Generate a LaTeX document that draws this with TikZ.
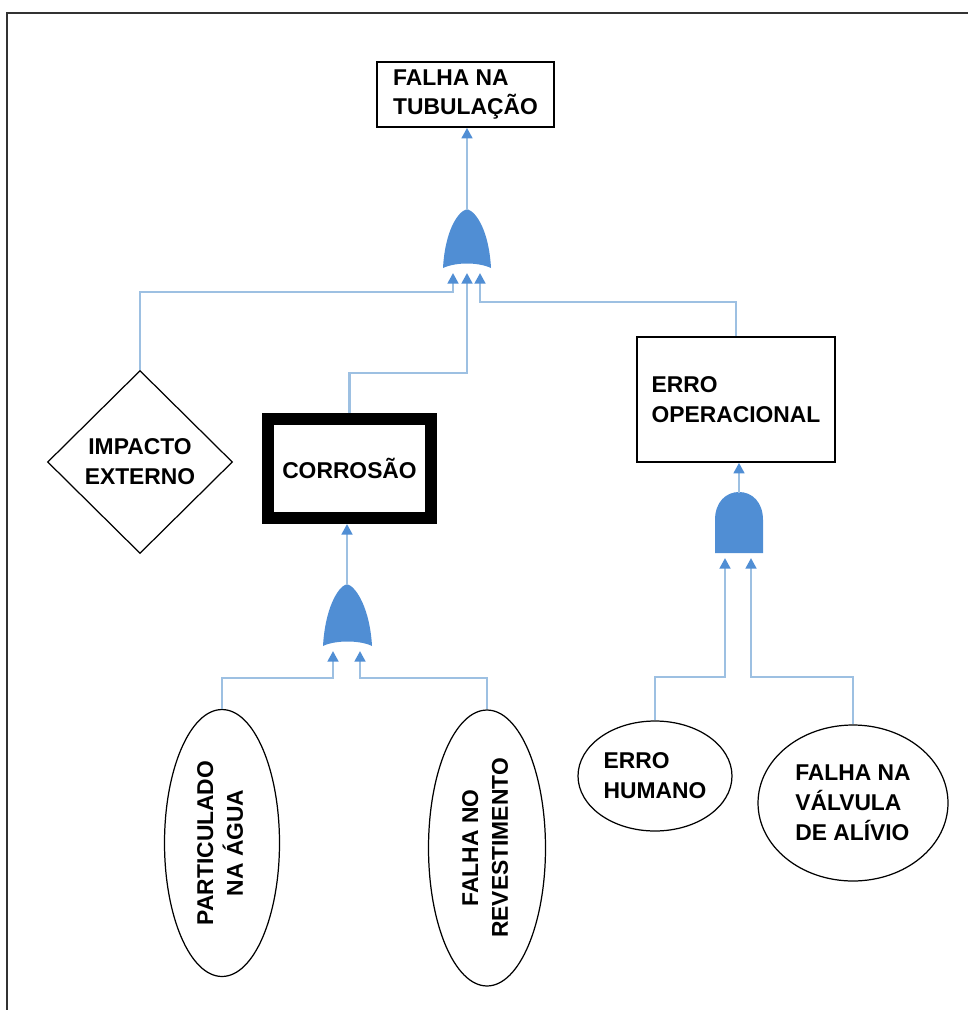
\documentclass[tikz,border=0pt]{standalone}
\usepackage{fontspec}
\usepackage{graphicx}
\setmainfont{Liberation Sans}
\usetikzlibrary{shapes.geometric,arrows.meta}
\definecolor{linkblue}{RGB}{157,192,226}
\definecolor{gateblue}{RGB}{80,142,212}

\begin{document}
\begin{tikzpicture}[x=0.02cm,y=-0.02cm]
  \tikzset{txt/.style = {font=\fontsize{13}{17}\selectfont\bfseries, inner sep=0pt}}
  \tikzset{box/.style = {txt, draw, line width=0.9pt, align=left}}
  \tikzset{basic/.style = {txt, draw, ellipse, line width=0.7pt}}
  \tikzset{link/.style = {draw=linkblue, line width=1.5pt, -{Triangle[length=6pt,width=6pt,color=gateblue]}}}
  \tikzset{gate/.style = {fill=gateblue}}

  \useasboundingbox (0,0) rectangle (968,1010);

  % Frame
  \draw[line width=1.2pt, black!80] (7,1010) -- (7,13) -- (968,13);

  % Events
  \node[box, minimum width=3.54cm, minimum height=1.3cm] (top) at (465.5,94.5) {FALHA NA\\TUBULAÇÃO};
  \node[txt, draw, diamond, line width=0.7pt, align=center, minimum width=3.7cm, minimum height=3.66cm] (imp) at (140,462) {IMPACTO\\EXTERNO};
  \node[box, line width=6.8pt, align=center, minimum width=3.26cm, minimum height=1.98cm] (cor) at (349.5,468.5) {CORROSÃO};
  \node[box, minimum width=3.96cm, minimum height=2.5cm] (eop) at (736,399.5) {ERRO\\OPERACIONAL};
  \node[basic, minimum width=2.3cm, minimum height=5.34cm] (part) at (222,843) {\rotatebox{90}{\begin{tabular}{@{}c@{}}PARTICULADO\\NA ÁGUA\end{tabular}}};
  \node[basic, minimum width=2.34cm, minimum height=5.52cm] (rev) at (487,848) {\rotatebox{90}{\begin{tabular}{@{}c@{}}FALHA NO\\REVESTIMENTO\end{tabular}}};
  \node[basic, align=left, minimum width=3.08cm, minimum height=2.2cm] (hum) at (655,776) {ERRO\\HUMANO};
  \node[basic, align=left, minimum width=3.8cm, minimum height=3.12cm] (val) at (853,803) {FALHA NA\\VÁLVULA\\DE ALÍVIO};

  % Gates
  \fill[gate] (443,268) .. controls (445,232) and (457,212) .. (467,209) .. controls (477,212) and (489,232) .. (491,268) .. controls (478,262) and (456,262) .. (443,268) -- cycle;
  \fill[gate] (323,646) .. controls (325,610) and (337,587) .. (347,584) .. controls (357,587) and (370,610) .. (372,646) .. controls (360,640) and (335,640) .. (323,646) -- cycle;
  \fill[gate] (715,553) -- (715,520) .. controls (715,502) and (726,492) .. (739,492) .. controls (752,492) and (763,502) .. (763,520) -- (763,553) -- cycle;

  \coordinate (g1out) at (467,210);
  \coordinate (g1a) at (453,292);  \coordinate (g1in1) at (453,273);
  \coordinate (g1b) at (467,373);  \coordinate (g1in2) at (467,273);
  \coordinate (g1c) at (480,302);  \coordinate (g1in3) at (480,273);
  \coordinate (g2out) at (347,585);
  \coordinate (g2a) at (333,678);  \coordinate (g2in1) at (333,651);
  \coordinate (g2b) at (360,678);  \coordinate (g2in2) at (360,651);
  \coordinate (g3out) at (739,493);
  \coordinate (g3a) at (725,677);  \coordinate (g3in1) at (725,558);
  \coordinate (g3b) at (751,677);  \coordinate (g3in2) at (751,558);

  % Connectors
  \draw[link] (g1out) -- (g1out |- top.south);
  \draw[link] (imp.north) |- (g1a) -- (g1in1);
  \draw[link] (cor.north) |- (g1b) -- (g1in2);
  \draw[link] (eop.north) |- (g1c) -- (g1in3);
  \draw[link] (g2out) -- (g2out |- cor.south);
  \draw[link] (part.north) |- (g2a) -- (g2in1);
  \draw[link] (rev.north) |- (g2b) -- (g2in2);
  \draw[link] (g3out) -- (g3out |- eop.south);
  \draw[link] (hum.north) |- (g3a) -- (g3in1);
  \draw[link] (val.north) |- (g3b) -- (g3in2);
\end{tikzpicture}
\end{document}
